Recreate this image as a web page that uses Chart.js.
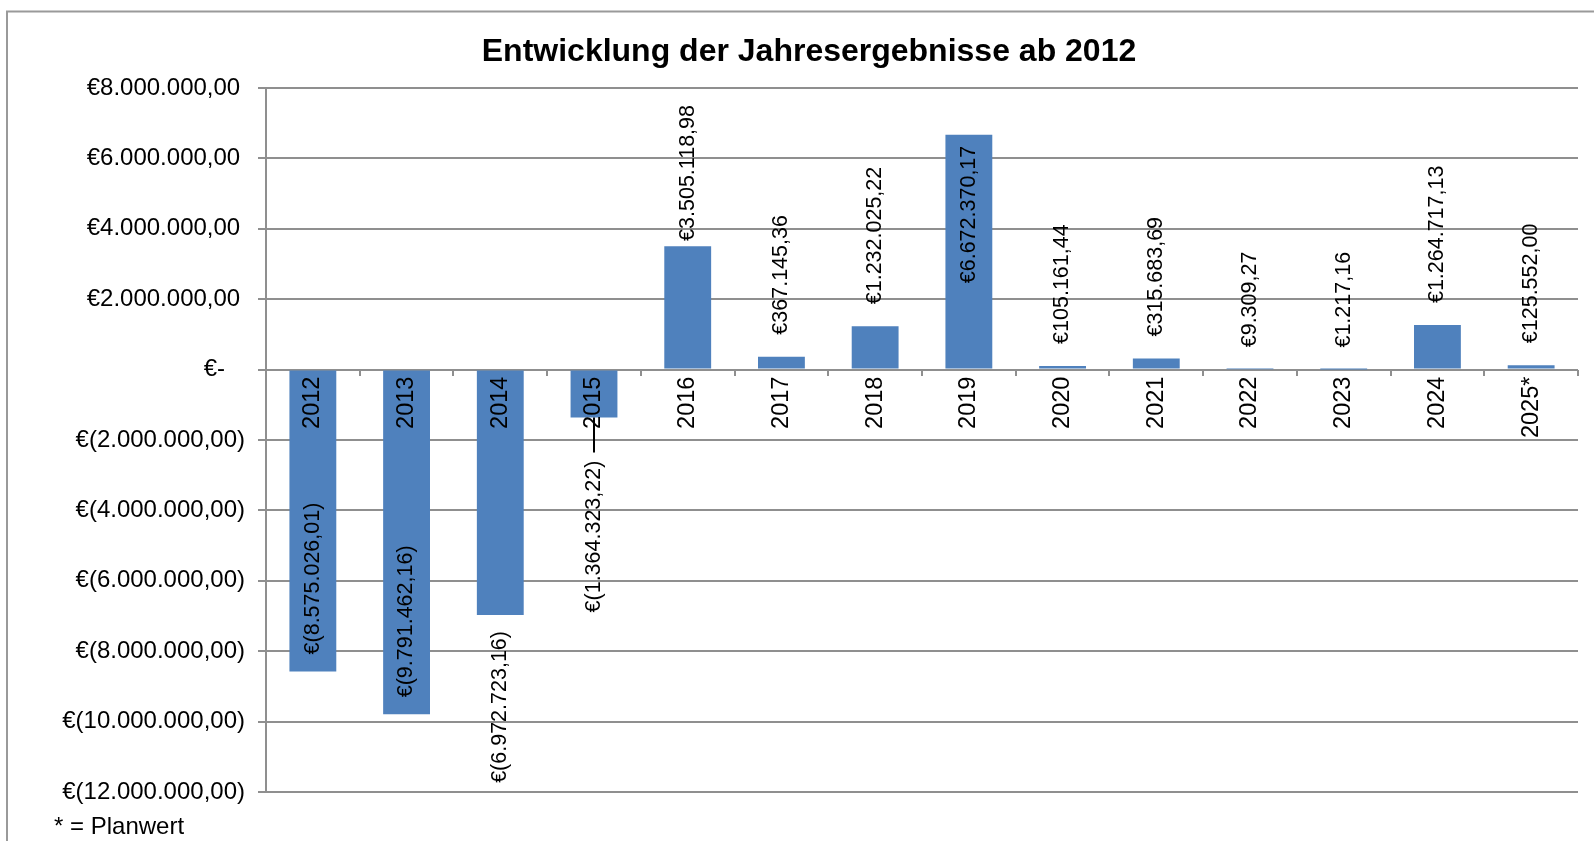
<!DOCTYPE html>
<html>
<head>
<meta charset="utf-8">
<script src="https://cdn.jsdelivr.net/npm/chart.js@4.4.1/dist/chart.umd.min.js"></script>
<style>
  html, body { margin: 0; padding: 0; background: #fff; overflow: hidden; }
  canvas { display: block; }
</style>
</head>
<body>
<canvas id="c" width="1594" height="841"></canvas>
<script>
// ---- data ----
const categories = ['2012','2013','2014','2015','2016','2017','2018','2019','2020','2021','2022','2023','2024','2025*'];
const results = [-8575026.01, -9791462.16, -6972723.16, -1364323.22, 3505118.98, 367145.36, 1232025.22,
                 6672370.17, 105161.44, 315683.69, 9309.27, 1217.16, 1264717.13, 125552.00];
const yTicksMin = -12000000;
const yTicksMax = 8000000;
const yTickStep = 2000000;
const titleText = 'Entwicklung der Jahresergebnisse ab 2012';
const footnoteText = '* = Planwert';

const FONT = "'Liberation Sans', Arial, sans-serif";

function deNumber(v) {
  const abs = Math.abs(v);
  const fixed = abs.toFixed(2);
  let [intPart, dec] = fixed.split('.');
  intPart = intPart.replace(/\B(?=(\d{3})+(?!\d))/g, '.');
  return intPart + ',' + dec;
}
function fmtEuro(v) {
  return v < 0 ? '€(' + deNumber(v) + ')' : '€' + deNumber(v);
}
function fmtTick(v) {
  if (v === 0) return '€-   ';
  return v < 0 ? '€(' + deNumber(v) + ')' : '€' + deNumber(v) + '\u2009';
}

// label placement per bar (style config)
const labelPlacement = ['inEnd','inEnd','outEnd','leader','outEnd','outEnd','outEnd','inEnd','outEnd','outEnd','outEnd','outEnd','outEnd','outEnd'];

const decorPlugin = {
  id: 'decor',
  beforeDraw(chart) {
    const ctx = chart.ctx;
    ctx.save();
    ctx.strokeStyle = '#9a9a9a';
    ctx.lineWidth = 2;
    ctx.beginPath();
    ctx.moveTo(7, 900);
    ctx.lineTo(7, 11.5);
    ctx.lineTo(1700, 11.5);
    ctx.stroke();
    ctx.restore();
  },
  afterDraw(chart) {
    const ctx = chart.ctx;
    const area = chart.chartArea;
    ctx.save();
    // title
    ctx.fillStyle = '#000';
    ctx.font = 'bold 32px ' + FONT;
    ctx.textAlign = 'center';
    ctx.textBaseline = 'alphabetic';
    ctx.fillText(titleText, 809, 61);
    // footnote
    ctx.font = '24px ' + FONT;
    ctx.textAlign = 'left';
    ctx.fillText(footnoteText, 54, 834);

    // data labels
    const meta = chart.getDatasetMeta(0);
    ctx.font = '21.5px ' + FONT;
    ctx.textAlign = 'left';
    ctx.textBaseline = 'middle';
    meta.data.forEach((bar, i) => {
      const v = results[i];
      const text = fmtEuro(v);
      const w = ctx.measureText(text).width;
      const x = bar.x;
      const end = bar.y;
      const mode = labelPlacement[i];
      let bottom;
      if (v >= 0) {
        if (mode === 'inEnd') {
          bottom = end + 11 + w;
        } else {
          bottom = end - 22;
          let top = bottom - w;
          if (top < area.top + 17) { top = area.top + 17; bottom = top + w; }
        }
      } else {
        if (mode === 'inEnd') {
          bottom = end - 17;
        } else if (mode === 'leader') {
          const top = end + 43;
          bottom = top + w;
          ctx.strokeStyle = '#000';
          ctx.lineWidth = 2;
          ctx.beginPath();
          ctx.moveTo(x, end);
          ctx.lineTo(x, top - 8);
          ctx.stroke();
        } else {
          bottom = end + 16 + w;
        }
      }
      ctx.save();
      ctx.translate(x, bottom);
      ctx.rotate(-Math.PI / 2);
      ctx.fillStyle = '#000';
      ctx.fillText(text, 0, 0);
      ctx.restore();
    });
    ctx.restore();
  }
};

const gridColor = '#8f8f8f';

new Chart(document.getElementById('c'), {
  type: 'bar',
  data: {
    labels: categories,
    datasets: [{
      data: results,
      backgroundColor: '#4F81BD',
      borderWidth: 0,
      barPercentage: 0.5,
      categoryPercentage: 1.0
    }]
  },
  options: {
    responsive: false,
    animation: false,
    devicePixelRatio: 1,
    layout: { padding: { left: 0, top: 88, right: 16, bottom: 49 } },
    plugins: {
      legend: { display: false },
      tooltip: { enabled: false },
      title: { display: false }
    },
    scales: {
      y: {
        min: yTicksMin,
        max: yTicksMax,
        afterFit(scale) { scale.width = 266; },
        ticks: {
          stepSize: yTickStep,
          padding: 13,
          color: '#000',
          font: { family: FONT, size: 24 },
          callback: (v) => fmtTick(v)
        },
        grid: {
          color: gridColor,
          lineWidth: 2,
          tickLength: 8,
          drawTicks: true
        },
        border: { display: true, color: gridColor, width: 2 }
      },
      x: {
        position: { y: 0 },
        ticks: {
          z: 1,
          autoSkip: false,
          minRotation: 90,
          maxRotation: 90,
          padding: 1,
          color: '#000',
          font: { family: FONT, size: 23.5 }
        },
        grid: {
          display: true,
          drawOnChartArea: false,
          drawTicks: true,
          tickLength: 6,
          offset: true,
          color: gridColor,
          lineWidth: 2
        },
        border: { display: false }
      }
    }
  },
  plugins: [decorPlugin]
});
</script>
</body>
</html>
